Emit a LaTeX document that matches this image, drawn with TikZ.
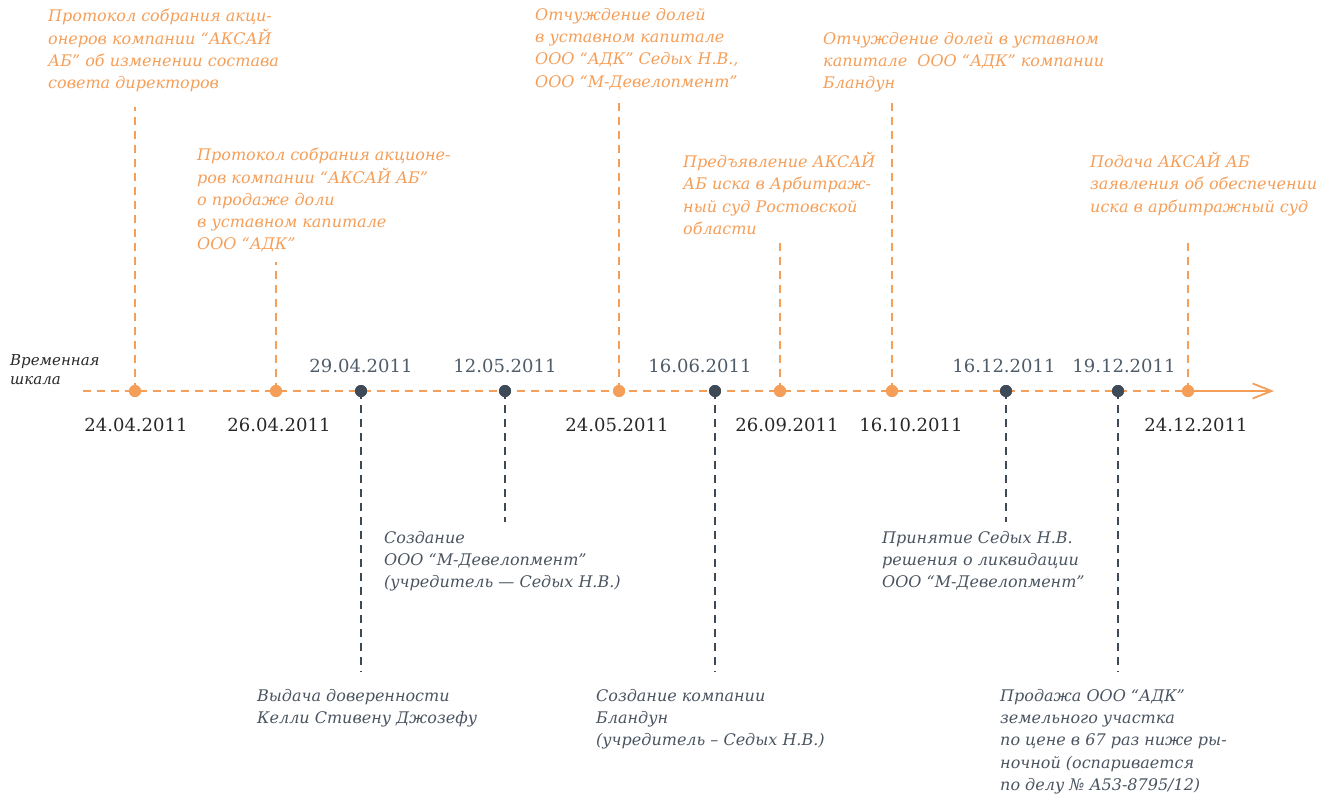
\documentclass[tikz,border=0pt]{standalone}
\usepackage{fontspec}
\setmainfont{DejaVu Serif}
\usetikzlibrary{arrows.meta}

\definecolor{tlorange}{RGB}{245,158,88}
\definecolor{tldark}{RGB}{62,74,87}
\definecolor{tldate}{RGB}{40,40,40}
\definecolor{tldategray}{RGB}{78,92,106}
\definecolor{tlnote}{RGB}{74,84,96}

\tikzset{
  evdot/.style={circle, fill=#1, inner sep=0pt, minimum size=12pt},
  evline/.style={draw=#1, line width=1.8pt, dash pattern=on 8pt off 6pt},
  note/.style={anchor=north west, inner sep=0pt, align=left, text=#1,
    font=\itshape\fontsize{16}{22.3}\selectfont,
    execute at begin node={\rule{0pt}{15pt}}},
  datebelow/.style={anchor=base, inner sep=0pt, text=tldate,
    font=\fontsize{18}{20}\selectfont},
  dateabove/.style={anchor=base, inner sep=0pt, text=tldategray,
    font=\fontsize{18}{20}\selectfont},
}

\begin{document}
\begin{tikzpicture}[x=1pt, y=-1pt]
\useasboundingbox (0,0) rectangle (1322,798);

% axis ends
\coordinate (axstart) at (83,391);
\coordinate (axtip) at (1274,391);

% event dots on the axis
\node[evdot=tlorange] (d1)  at (135,391) {};
\node[evdot=tlorange] (d2)  at (276,391) {};
\node[evdot=tldark]   (d3)  at (361,391) {};
\node[evdot=tldark]   (d4)  at (505,391) {};
\node[evdot=tlorange] (d5)  at (619,391) {};
\node[evdot=tldark]   (d6)  at (715,391) {};
\node[evdot=tlorange] (d7)  at (780,391) {};
\node[evdot=tlorange] (d8)  at (892,391) {};
\node[evdot=tldark]   (d9)  at (1006,391) {};
\node[evdot=tldark]   (d10) at (1118,391) {};
\node[evdot=tlorange] (d11) at (1188,391) {};

% free ends of the leader lines
\coordinate (e1)  at (135,107);
\coordinate (e2)  at (276,262);
\coordinate (e3)  at (361,672);
\coordinate (e4)  at (505,522);
\coordinate (e5)  at (619,97);
\coordinate (e6)  at (715,672);
\coordinate (e7)  at (780,238);
\coordinate (e8)  at (892,98);
\coordinate (e9)  at (1006,522);
\coordinate (e10) at (1118,672);
\coordinate (e11) at (1188,238);

% axis
\draw[evline=tlorange] (axstart) -- (d11.center);
\draw[draw=tlorange, line width=1.8pt, -{Straight Barb[length=19pt,width=15pt]}] (d11.center) -- (axtip);

% leader lines
\foreach \i in {1,2,5,7,8,11}
  \draw[evline=tlorange] (d\i.center) -- (e\i);
\foreach \i in {3,4,6,9,10}
  \draw[evline=tldark] (d\i.center) -- (e\i);

% dots drawn again on top of the lines
\foreach \i/\c in {1/tlorange,2/tlorange,3/tldark,4/tldark,5/tlorange,6/tldark,7/tlorange,8/tlorange,9/tldark,10/tldark,11/tlorange}
  \fill[\c] (d\i) circle (6pt);

% axis caption
\node[anchor=north west, inner sep=0pt, align=left, text=tldate,
      font=\itshape\fontsize{15}{19}\selectfont,
      execute at begin node={\rule{0pt}{13pt}}] (cap) at (10,354) {Временная\\шкала};

% dates
\node[datebelow] (t1)  at (136,431)  {24.04.2011};
\node[datebelow] (t2)  at (279,431)  {26.04.2011};
\node[dateabove] (t3)  at (361,372)  {29.04.2011};
\node[dateabove] (t4)  at (505,372)  {12.05.2011};
\node[datebelow] (t5)  at (617,431)  {24.05.2011};
\node[dateabove] (t6)  at (700,372)  {16.06.2011};
\node[datebelow] (t7)  at (787,431)  {26.09.2011};
\node[datebelow] (t8)  at (911,431)  {16.10.2011};
\node[dateabove] (t9)  at (1004,372) {16.12.2011};
\node[dateabove] (t10) at (1124,372) {19.12.2011};
\node[datebelow] (t11) at (1196,431) {24.12.2011};

% event descriptions above the axis
\node[note=tlorange] (n1) at (48,9)
  {Протокол собрания акци-\\онеров компании “АКСАЙ\\АБ” об изменении состава\\совета директоров};
\node[note=tlorange] (n2) at (197,148)
  {Протокол собрания акционе-\\ров компании “АКСАЙ АБ”\\о продаже доли\\в уставном капитале\\ООО “АДК”};
\node[note=tlorange] (n5) at (535,8)
  {Отчуждение долей\\в уставном капитале\\ООО “АДК” Седых Н.В.,\\ООО “М-Девелопмент”};
\node[note=tlorange] (n7) at (683,152)
  {Предъявление АКСАЙ\\АБ иска в Арбитраж-\\ный суд Ростовской\\области};
\node[note=tlorange] (n8) at (823,32)
  {Отчуждение долей в уставном\\капитале\ \ ООО “АДК” компании\\Бландун};
\node[note=tlorange] (n11) at (1090,152)
  {Подача АКСАЙ АБ\\заявления об обеспечении\\иска в арбитражный суд};

% event descriptions below the axis
\node[note=tlnote] (n4) at (384,531)
  {Создание\\ООО “М-Девелопмент”\\(учредитель — Седых Н.В.)};
\node[note=tlnote] (n9) at (882,531)
  {Принятие Седых Н.В.\\решения о ликвидации\\ООО “М-Девелопмент”};
\node[note=tlnote] (n3) at (257,689)
  {Выдача доверенности\\Келли Стивену Джозефу};
\node[note=tlnote] (n6) at (596,689)
  {Создание компании\\Бландун\\(учредитель – Седых Н.В.)};
\node[note=tlnote] (n10) at (1000,689)
  {Продажа ООО “АДК”\\земельного участка\\по цене в 67 раз ниже ры-\\ночной (оспаривается\\по делу № А53-8795/12)};
\end{tikzpicture}
\end{document}
